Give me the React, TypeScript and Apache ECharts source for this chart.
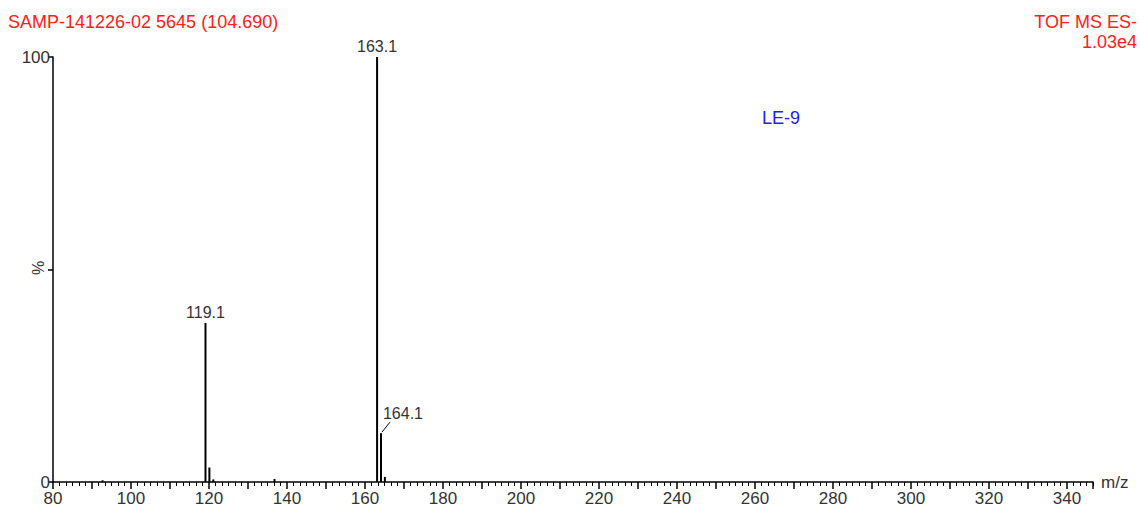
import React, { useEffect, useRef } from "react";
import * as echarts from "echarts";

const mzValues = [92.7, 119.1, 120.1, 121.1, 136.8, 163.1, 164.1, 165.1];
const intensities = [0.4, 37.4, 3.4, 0.6, 0.7, 100, 11.5, 1.2];
const labeledPeaks = ["119.1", "163.1", "164.1"];
const leaderPeak = "164.1";
const xTickLabels = [80, 100, 120, 140, 160, 180, 200, 220, 240, 260, 280, 300, 320, 340];
const yTickLabels = [0, 100];

const titleLeft = "SAMP-141226-02 5645 (104.690)";
const titleRight1 = "TOF MS ES-";
const titleRight2 = "1.03e4";
const sampleName = "LE-9";

const FONT = "'Liberation Sans', Arial, sans-serif";

export default function App() {
  const ref = useRef<HTMLDivElement>(null);
  useEffect(() => {
    document.body.style.margin = "0";
    const chart = echarts.init(ref.current!, null, { renderer: "svg" });
    const data = mzValues.map((mz, i) => {
      const name = mz.toFixed(1);
      const item: any = { value: [mz, intensities[i]] };
      if (labeledPeaks.includes(name)) {
        item.label = {
          show: true,
          position: "top",
          distance: 3,
          formatter: name,
          fontSize: 16,
          fontFamily: FONT,
          color: "#333",
        };
      }
      return item;
    });
    const leaderIndex = mzValues.findIndex((m) => m.toFixed(1) === leaderPeak);
    const baseGraphic: any[] = [
      { type: "text", left: 8, top: 13, style: { text: titleLeft, fontSize: 18, fontFamily: FONT, fill: "#ff2020" } },
      { type: "text", right: 3, top: 13, style: { text: titleRight1, fontSize: 18, fontFamily: FONT, fill: "#ff2020" } },
      { type: "text", right: 3, top: 33, style: { text: titleRight2, fontSize: 18, fontFamily: FONT, fill: "#ff2020" } },
      { type: "text", left: 762, top: 109, style: { text: sampleName, fontSize: 18, fontFamily: FONT, fill: "#2020ff" } },
      {
        type: "text",
        x: 38,
        y: 268,
        rotation: Math.PI / 2,
        style: { text: "%", fontSize: 16, fontFamily: FONT, fill: "#333", align: "center", verticalAlign: "middle" },
      },
    ];
    chart.setOption({
      animation: false,
      backgroundColor: "#fff",
      grid: { left: 53, right: 47, top: 57, bottom: 32, containLabel: false },
      xAxis: {
        type: "value",
        min: 80,
        max: 346.67,
        interval: 10,
        name: "m/z",
        nameLocation: "end",
        nameGap: 8,
        nameTextStyle: { fontSize: 17, fontFamily: FONT, color: "#333" },
        axisLine: { show: true, lineStyle: { color: "#000", width: 1.5 } },
        axisTick: { show: true, length: 7, lineStyle: { color: "#000", width: 1.5 } },
        minorTick: { show: true, splitNumber: 6, length: 4, lineStyle: { color: "#000", width: 1 } },
        splitLine: { show: false },
        axisLabel: {
          fontSize: 17,
          fontFamily: FONT,
          color: "#333",
          margin: 8,
          showMaxLabel: false,
          formatter: (v: number) =>
            xTickLabels.includes(Math.round(v)) && Math.abs(v - Math.round(v)) < 1e-6 ? String(Math.round(v)) : "",
        },
      },
      yAxis: {
        type: "value",
        min: 0,
        max: 100,
        interval: 50,
        axisLine: { show: true, lineStyle: { color: "#000", width: 1.5 } },
        axisTick: { show: true, length: 5, lineStyle: { color: "#000", width: 1.5 } },
        splitLine: { show: false },
        axisLabel: {
          fontSize: 17,
          fontFamily: FONT,
          color: "#333",
          margin: 3,
          formatter: (v: number) => (yTickLabels.includes(v) ? String(v) : ""),
        },
      },
      series: [
        {
          type: "bar",
          barWidth: 2,
          itemStyle: { color: "#000" },
          data,
          labelLayout: (params: any) => (params.dataIndex === leaderIndex ? { dx: 22, dy: -9 } : {}),
        },
      ],
      graphic: baseGraphic,
    });
    const p = chart.convertToPixel({ gridIndex: 0 }, [mzValues[leaderIndex], intensities[leaderIndex]]) as number[];
    chart.setOption({
      graphic: [
        ...baseGraphic,
        {
          type: "line",
          shape: { x1: p[0] + 1, y1: p[1] - 1, x2: p[0] + 9, y2: p[1] - 11 },
          style: { stroke: "#000", lineWidth: 1 },
        },
      ],
    });
    return () => chart.dispose();
  }, []);
  return <div ref={ref} style={{ width: 1140, height: 514 }} />;
}
